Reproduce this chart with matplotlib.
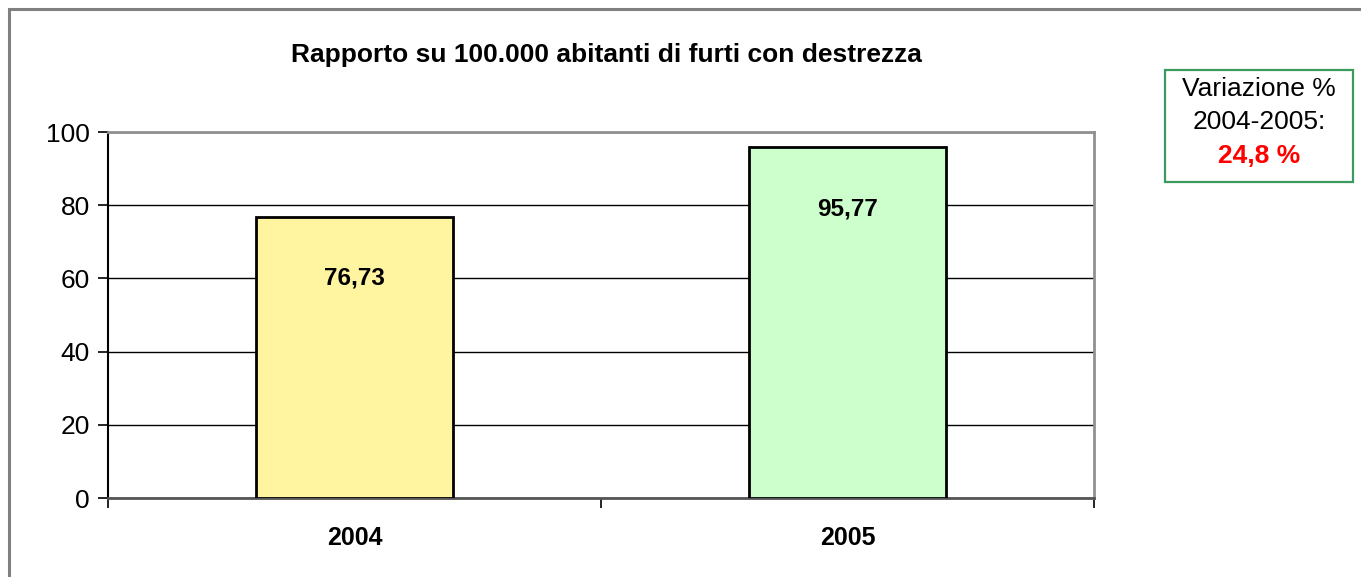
import matplotlib.pyplot as plt
from matplotlib.patches import Rectangle

plt.rcParams['font.family'] = ['Liberation Sans', 'DejaVu Sans']

anni = ['2004', '2005']
valori = [76.73, 95.77]
etichette = ['76,73', '95,77']
colori = ['#FFF5A0', '#CCFFCC']
titolo = 'Rapporto su 100.000 abitanti di furti con destrezza'
variazione = '24,8 %'

fig = plt.figure(figsize=(13.61, 5.77), dpi=100)
W, H = 1361, 577

# cornice esterna (solo bordo alto e sinistro visibili)
fig.patches.append(Rectangle((9 / W, -0.2), 1.2, 1.2 - 9 / H, transform=fig.transFigure,
                             fill=False, edgecolor='#808080', linewidth=2.2))

ax = fig.add_axes([108 / W, 1 - 498 / H, (1094 - 108) / W, (498 - 132) / H])
x = [0.5, 1.5]
bars = ax.bar(x, valori, width=0.4, color=colori, edgecolor='black', linewidth=2, zorder=3)
for xi, v, lab in zip(x, valori, etichette):
    ax.annotate(lab, (xi, v), xytext=(0, -44), textcoords='offset points',
                ha='center', va='center', fontsize=17.5, fontweight='bold', zorder=4)

ax.set_xlim(0, 2)
ax.set_ylim(0, 100)
ax.set_yticks([0, 20, 40, 60, 80, 100])
ax.yaxis.grid(True, color='black', linewidth=1, zorder=0)
ax.set_xticks([0, 1, 2])
ax.set_xticklabels([])
ax.set_xticks(x, minor=True)
ax.set_xticklabels(anni, minor=True, fontsize=18, fontweight='bold')
ax.tick_params(axis='x', which='minor', length=0, pad=20)
ax.tick_params(axis='x', which='major', direction='out', length=7, width=1.2, color='black')
ax.tick_params(axis='y', direction='out', length=7, width=1.2, labelsize=19, pad=6)

ax.spines['left'].set_color('black')
ax.spines['left'].set_linewidth(1.5)
ax.spines['bottom'].set_color('#555555')
ax.spines['bottom'].set_linewidth(2)
ax.spines['top'].set_color('#909090')
ax.spines['top'].set_linewidth(2)
ax.spines['right'].set_color('#909090')
ax.spines['right'].set_linewidth(2)

fig.text(606 / W, 1 - 55 / H, titolo, ha='center', va='center', fontsize=19, fontweight='bold')

# riquadro variazione
fig.patches.append(Rectangle((1165 / W, 1 - 182 / H), (1353 - 1165) / W, (182 - 70) / H,
                             transform=fig.transFigure, fill=False,
                             edgecolor='#3C9A5E', linewidth=1.6))
fig.text(1259 / W, 1 - 89 / H, 'Variazione %', ha='center', va='center', fontsize=19)
fig.text(1259 / W, 1 - 122 / H, '2004-2005:', ha='center', va='center', fontsize=19)
fig.text(1259 / W, 1 - 156 / H, variazione, ha='center', va='center', fontsize=19,
         fontweight='bold', color='red')

fig.savefig('out.png', dpi=100)
